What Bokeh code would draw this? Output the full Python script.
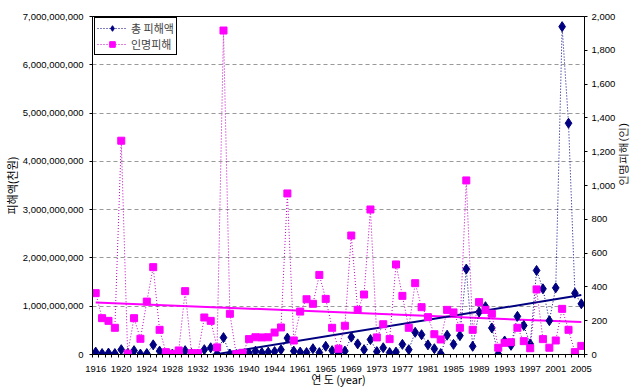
import math
import numpy as np
from bokeh.plotting import figure
from bokeh.models import (Range1d, LinearAxis, FixedTicker, NumeralTickFormatter,
                          Legend, LegendItem, Grid)
from bokeh.embed import file_html
from bokeh.resources import INLINE

# ---- data -------------------------------------------------------------
years = list(range(1916, 1945)) + [1958, 1959, 1960] + list(range(1961, 2006))

# total damage (천원), in millions of 천원
damage_million = [
    50, 20, 30, 20, 100, 20, 80, 10, 20, 200,
    70, 10, 10, 20, 80, 20, 10, 100, 140, 10,
    350, 10, 0, 0, 30, 70, 40, 50, 60, 100,
    340, 70, 50, 40, 120, 40, 170, 80, 10, 70,
    360, 220, 100, 310, 60, 140, 40, 50, 210, 100,
    460, 410, 200, 120, 20, 400, 210, 390, 1770, 170,
    880, 990, 550, 10, 280, 190, 790, 600, 220, 1740,
    1360, 700, 1380, 6790, 4790, 1270, 1050,
]

# casualties (인)
casualties = [
    363, 215, 199, 158, 1265, 5, 215, 93, 313, 517,
    146, 14, 4, 24, 375, 8, 8, 219, 199, 42,
    1917, 241, 2, 10, 91, 102, 101, 102, 130, 160,
    953, 83, 254, 327, 300, 471, 329, 158, 34, 170,
    704, 264, 355, 858, 101, 179, 91, 533, 347, 158,
    422, 280, 221, 120, 89, 264, 249, 158, 1030, 146,
    310, 264, 241, 40, 69, 73, 158, 79, 37, 385,
    91, 40, 83, 270, 146, 14, 51,
]

left_ticks = [0, 1e9, 2e9, 3e9, 4e9, 5e9, 6e9, 7e9]
right_ticks = list(range(0, 2001, 200))
label_every = 4

# ---- derived ----------------------------------------------------------
x = list(range(len(years)))
damage = [v * 1e6 for v in damage_million]

d_fit = np.polyfit(x, damage, 1)
c_fit = np.polyfit(x, casualties, 1)
tx = [x[0], x[-1]]
d_trend = [d_fit[0] * t + d_fit[1] for t in tx]
c_trend = [c_fit[0] * t + c_fit[1] for t in tx]

NAVY = "#000080"
MAG = "#FF00FF"
TICK_FONT = "Liberation Sans"
KFONT = "Noto Sans CJK KR"

FW, FH = 492, 338

p = figure(frame_width=FW, frame_height=FH,
           x_range=Range1d(-0.5, len(years) - 0.5),
           y_range=Range1d(0, 7e9),
           output_backend="svg", toolbar_location=None,
           min_border_left=83, min_border_right=46,
           min_border_top=16, min_border_bottom=29,
           background_fill_color="white", border_fill_color="white")

p.extra_y_ranges = {"cas": Range1d(0, 2000)}

p.xaxis.visible = False
p.yaxis.visible = False
p.below = []
p.left = []

# bottom axis
xax = LinearAxis(
    ticker=FixedTicker(ticks=[i for i in x if i % label_every == 0],
                       minor_ticks=[i - 0.5 for i in range(len(years) + 1)]),
    major_label_overrides={i: str(years[i]) for i in x if i % label_every == 0},
    axis_label="연 도 (year)")
p.add_layout(xax, "below")

yax = LinearAxis(ticker=FixedTicker(ticks=left_ticks),
                 formatter=NumeralTickFormatter(format="0,0"),
                 axis_label="피해액(천원)")
p.add_layout(yax, "left")

rax = LinearAxis(y_range_name="cas", ticker=FixedTicker(ticks=right_ticks),
                 formatter=NumeralTickFormatter(format="0,0"))
p.add_layout(rax, "right")

for ax in (xax, yax, rax):
    ax.axis_line_color = "black"
    ax.major_label_text_font = TICK_FONT
    ax.major_label_text_font_size = "9.5px"
    ax.major_label_text_color = "black"
    ax.axis_label_text_font = KFONT
    ax.axis_label_text_font_size = "11px"
    ax.axis_label_text_font_style = "normal"
    ax.axis_label_text_color = "black"
    ax.axis_label_standoff = 0
    ax.major_tick_in = 0
    ax.minor_tick_in = 0

xax.major_tick_out = 0
xax.minor_tick_out = 3
xax.minor_tick_line_color = "black"
xax.major_label_standoff = 8
xax.axis_label_standoff = -4
yax.major_tick_out = 3
yax.minor_tick_line_color = None
yax.major_label_standoff = 6
rax.major_tick_out = 3
rax.minor_tick_line_color = None
rax.major_label_standoff = 4

# right axis title (reads bottom-to-top): a bare axis with one rotated label
mid = right_ticks[-1] / 2
rtitle = LinearAxis(y_range_name="cas", ticker=FixedTicker(ticks=[mid]),
                    major_label_overrides={mid: "인명피해(인)"},
                    major_label_orientation=math.pi / 2,
                    major_label_standoff=4,
                    major_label_text_font="Liberation Sans",
                    major_label_text_font_size="11px",
                    major_label_text_color="black",
                    axis_line_color=None, major_tick_line_color=None,
                    minor_tick_line_color=None,
                    major_tick_out=0, major_tick_in=0)
p.add_layout(rtitle, "right")

p.xgrid.visible = False
p.ygrid.visible = False
g = Grid(dimension=1, ticker=yax.ticker, grid_line_color="#999999",
         grid_line_dash="4 3", grid_line_width=1)
p.add_layout(g)

p.outline_line_color = "black"
p.outline_line_alpha = 1.0
p.outline_line_width = 1

# trend lines
p.line(tx, c_trend, y_range_name="cas", line_color=MAG, line_width=2)
p.line(tx, d_trend, line_color=NAVY, line_width=2)

# series
nl = p.line(x, damage, line_color=NAVY, line_dash="1 2", line_width=1)
ns = p.scatter(x, damage, marker="diamond", size=10, fill_color=NAVY,
               line_color=NAVY)
ml = p.line(x, casualties, y_range_name="cas", line_color="#C000C0",
            line_dash="1 2", line_width=1)
ms = p.scatter(x, casualties, y_range_name="cas", marker="square", size=7,
               fill_color=MAG, line_color=MAG)

legend = Legend(items=[LegendItem(label="총 피해액", renderers=[nl, ns]),
                       LegendItem(label="인명피해", renderers=[ml, ms])],
                location=(2, 299), margin=0, padding=2, spacing=0,
                glyph_width=30, glyph_height=14, label_height=14,
                label_standoff=4,
                label_text_font=KFONT, label_text_font_size="11px",
                border_line_color="black", border_line_width=1,
                border_line_alpha=1.0,
                background_fill_color="white", background_fill_alpha=1.0)
p.add_layout(legend)

open("out.html", "w").write(file_html(p, INLINE))
